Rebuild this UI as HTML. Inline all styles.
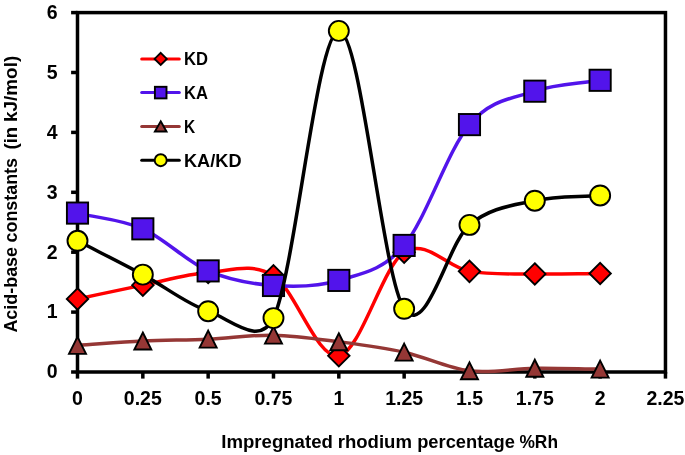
<!DOCTYPE html>
<html><head><meta charset="utf-8"><style>
html,body{margin:0;padding:0;background:#fff;}
body{width:685px;height:455px;overflow:hidden;}
svg{display:block;will-change:transform;}
text{font-family:"Liberation Sans",sans-serif;font-weight:bold;fill:#000;}
.tk{font-size:19.5px;}
.lg{font-size:18.5px;}
.tt{font-size:18px;}
</style></head><body>
<svg width="685" height="455" viewBox="0 0 685 455">
<g stroke="#000" stroke-width="3.5" fill="none" stroke-linecap="butt">
<rect x="77.50" y="12.60" width="587.97" height="359.40"/>
<line x1="71.10" y1="372.00" x2="77.50" y2="372.00"/>
<line x1="71.10" y1="312.10" x2="77.50" y2="312.10"/>
<line x1="71.10" y1="252.20" x2="77.50" y2="252.20"/>
<line x1="71.10" y1="192.30" x2="77.50" y2="192.30"/>
<line x1="71.10" y1="132.40" x2="77.50" y2="132.40"/>
<line x1="71.10" y1="72.50" x2="77.50" y2="72.50"/>
<line x1="71.10" y1="12.60" x2="77.50" y2="12.60"/>
<line x1="77.50" y1="372.00" x2="77.50" y2="378.60"/>
<line x1="142.83" y1="372.00" x2="142.83" y2="378.60"/>
<line x1="208.16" y1="372.00" x2="208.16" y2="378.60"/>
<line x1="273.49" y1="372.00" x2="273.49" y2="378.60"/>
<line x1="338.82" y1="372.00" x2="338.82" y2="378.60"/>
<line x1="404.15" y1="372.00" x2="404.15" y2="378.60"/>
<line x1="469.48" y1="372.00" x2="469.48" y2="378.60"/>
<line x1="534.81" y1="372.00" x2="534.81" y2="378.60"/>
<line x1="600.14" y1="372.00" x2="600.14" y2="378.60"/>
<line x1="665.47" y1="372.00" x2="665.47" y2="378.60"/>
</g>
<path d="M77.50,298.92 C99.28,294.33 121.05,289.54 142.83,285.14 C164.61,280.75 186.38,274.12 208.16,272.57 C229.94,271.01 251.71,261.92 273.49,275.80 C295.27,289.68 317.04,359.76 338.82,355.83 C360.60,351.89 382.37,266.28 404.15,252.20 C425.93,238.12 447.70,267.74 469.48,271.37 C491.26,274.99 513.03,273.58 534.81,273.94 C556.59,274.30 578.36,273.66 600.14,273.52" fill="none" stroke="#ff0000" stroke-width="3.5" stroke-linejoin="round" stroke-linecap="round"/>
<path d="M77.50,288.22 L88.20,298.92 L77.50,309.62 L66.80,298.92 Z" fill="#ff0000" stroke="#000" stroke-width="1.90"/>
<path d="M142.83,274.44 L153.53,285.14 L142.83,295.84 L132.13,285.14 Z" fill="#ff0000" stroke="#000" stroke-width="1.90"/>
<path d="M208.16,261.87 L218.86,272.57 L208.16,283.27 L197.46,272.57 Z" fill="#ff0000" stroke="#000" stroke-width="1.90"/>
<path d="M273.49,265.10 L284.19,275.80 L273.49,286.50 L262.79,275.80 Z" fill="#ff0000" stroke="#000" stroke-width="1.90"/>
<path d="M338.82,345.13 L349.52,355.83 L338.82,366.53 L328.12,355.83 Z" fill="#ff0000" stroke="#000" stroke-width="1.90"/>
<path d="M404.15,241.50 L414.85,252.20 L404.15,262.90 L393.45,252.20 Z" fill="#ff0000" stroke="#000" stroke-width="1.90"/>
<path d="M469.48,260.67 L480.18,271.37 L469.48,282.07 L458.78,271.37 Z" fill="#ff0000" stroke="#000" stroke-width="1.90"/>
<path d="M534.81,263.24 L545.51,273.94 L534.81,284.64 L524.11,273.94 Z" fill="#ff0000" stroke="#000" stroke-width="1.90"/>
<path d="M600.14,262.82 L610.84,273.52 L600.14,284.22 L589.44,273.52 Z" fill="#ff0000" stroke="#000" stroke-width="1.90"/>
<path d="M77.50,213.09 C99.28,218.34 121.05,219.21 142.83,228.84 C164.61,238.47 186.38,261.44 208.16,270.89 C229.94,280.33 251.71,283.92 273.49,285.50 C295.27,287.09 317.04,287.09 338.82,280.41 C360.60,273.73 382.37,271.40 404.15,245.43 C425.93,219.46 447.70,150.32 469.48,124.61 C491.26,98.91 513.03,98.58 534.81,91.19 C556.59,83.80 578.36,83.92 600.14,80.29" fill="none" stroke="#5214eb" stroke-width="3.5" stroke-linejoin="round" stroke-linecap="round"/>
<rect x="66.90" y="202.49" width="21.20" height="21.20" fill="#5214eb" stroke="#000" stroke-width="1.90"/>
<rect x="132.23" y="218.24" width="21.20" height="21.20" fill="#5214eb" stroke="#000" stroke-width="1.90"/>
<rect x="197.56" y="260.29" width="21.20" height="21.20" fill="#5214eb" stroke="#000" stroke-width="1.90"/>
<rect x="262.89" y="274.90" width="21.20" height="21.20" fill="#5214eb" stroke="#000" stroke-width="1.90"/>
<rect x="328.22" y="269.81" width="21.20" height="21.20" fill="#5214eb" stroke="#000" stroke-width="1.90"/>
<rect x="393.55" y="234.83" width="21.20" height="21.20" fill="#5214eb" stroke="#000" stroke-width="1.90"/>
<rect x="458.88" y="114.01" width="21.20" height="21.20" fill="#5214eb" stroke="#000" stroke-width="1.90"/>
<rect x="524.21" y="80.59" width="21.20" height="21.20" fill="#5214eb" stroke="#000" stroke-width="1.90"/>
<rect x="589.54" y="69.69" width="21.20" height="21.20" fill="#5214eb" stroke="#000" stroke-width="1.90"/>
<path d="M77.50,345.34 C99.28,343.91 121.05,342.06 142.83,341.03 C164.61,340.00 186.38,340.15 208.16,339.17 C229.94,338.20 251.71,334.73 273.49,335.16 C295.27,335.59 317.04,338.92 338.82,341.75 C360.60,344.59 382.37,347.33 404.15,352.17 C425.93,357.02 447.70,368.13 469.48,370.80 C491.26,373.48 513.03,368.51 534.81,368.23 C556.59,367.95 578.36,368.83 600.14,369.12" fill="none" stroke="#953735" stroke-width="3.5" stroke-linejoin="round" stroke-linecap="round"/>
<path d="M77.50,336.84 L86.00,353.84 L69.00,353.84 Z" fill="#953735" stroke="#000" stroke-width="1.90" stroke-linejoin="miter"/>
<path d="M142.83,332.53 L151.33,349.53 L134.33,349.53 Z" fill="#953735" stroke="#000" stroke-width="1.90" stroke-linejoin="miter"/>
<path d="M208.16,330.67 L216.66,347.67 L199.66,347.67 Z" fill="#953735" stroke="#000" stroke-width="1.90" stroke-linejoin="miter"/>
<path d="M273.49,326.66 L281.99,343.66 L264.99,343.66 Z" fill="#953735" stroke="#000" stroke-width="1.90" stroke-linejoin="miter"/>
<path d="M338.82,333.25 L347.32,350.25 L330.32,350.25 Z" fill="#953735" stroke="#000" stroke-width="1.90" stroke-linejoin="miter"/>
<path d="M404.15,343.67 L412.65,360.67 L395.65,360.67 Z" fill="#953735" stroke="#000" stroke-width="1.90" stroke-linejoin="miter"/>
<path d="M469.48,362.30 L477.98,379.30 L460.98,379.30 Z" fill="#953735" stroke="#000" stroke-width="1.90" stroke-linejoin="miter"/>
<path d="M534.81,359.73 L543.31,376.73 L526.31,376.73 Z" fill="#953735" stroke="#000" stroke-width="1.90" stroke-linejoin="miter"/>
<path d="M600.14,360.62 L608.64,377.62 L591.64,377.62 Z" fill="#953735" stroke="#000" stroke-width="1.90" stroke-linejoin="miter"/>
<path d="M77.50,240.82 C99.28,252.08 121.05,262.87 142.83,274.60 C164.61,286.33 186.38,303.95 208.16,311.20 C229.94,318.45 259.61,347.86 273.49,318.09 C295.27,271.37 317.04,32.42 338.82,30.87 C360.60,29.32 382.37,276.47 404.15,308.81 C425.93,341.14 447.70,242.91 469.48,224.89 C491.26,206.87 513.03,205.59 534.81,200.69 C556.59,195.78 578.36,197.21 600.14,195.47" fill="none" stroke="#000" stroke-width="3.5" stroke-linejoin="round" stroke-linecap="round"/>
<circle cx="77.50" cy="240.82" r="10.00" fill="#ffff00" stroke="#000" stroke-width="1.90"/>
<circle cx="142.83" cy="274.60" r="10.00" fill="#ffff00" stroke="#000" stroke-width="1.90"/>
<circle cx="208.16" cy="311.20" r="10.00" fill="#ffff00" stroke="#000" stroke-width="1.90"/>
<circle cx="273.49" cy="318.09" r="10.00" fill="#ffff00" stroke="#000" stroke-width="1.90"/>
<circle cx="338.82" cy="30.87" r="10.00" fill="#ffff00" stroke="#000" stroke-width="1.90"/>
<circle cx="404.15" cy="308.81" r="10.00" fill="#ffff00" stroke="#000" stroke-width="1.90"/>
<circle cx="469.48" cy="224.89" r="10.00" fill="#ffff00" stroke="#000" stroke-width="1.90"/>
<circle cx="534.81" cy="200.69" r="10.00" fill="#ffff00" stroke="#000" stroke-width="1.90"/>
<circle cx="600.14" cy="195.47" r="10.00" fill="#ffff00" stroke="#000" stroke-width="1.90"/>
<line x1="141.7" y1="58.9" x2="179.3" y2="58.9" stroke="#ff0000" stroke-width="3.0" stroke-linecap="round"/>
<path d="M160.70,52.80 L166.80,58.90 L160.70,65.00 L154.60,58.90 Z" fill="#ff0000" stroke="#000" stroke-width="1.90"/>
<text x="184.0" y="65.2" class="lg" textLength="24.0" lengthAdjust="spacingAndGlyphs">KD</text>
<line x1="141.7" y1="92.6" x2="179.3" y2="92.6" stroke="#5214eb" stroke-width="3.0" stroke-linecap="round"/>
<rect x="154.90" y="86.80" width="11.60" height="11.60" fill="#5214eb" stroke="#000" stroke-width="1.90"/>
<text x="184.0" y="98.9" class="lg" textLength="24.0" lengthAdjust="spacingAndGlyphs">KA</text>
<line x1="141.7" y1="126.4" x2="179.3" y2="126.4" stroke="#953735" stroke-width="3.0" stroke-linecap="round"/>
<path d="M160.70,121.30 L166.50,131.50 L154.90,131.50 Z" fill="#953735" stroke="#000" stroke-width="1.90" stroke-linejoin="miter"/>
<text x="184.0" y="132.7" class="lg" textLength="11.2" lengthAdjust="spacingAndGlyphs">K</text>
<line x1="141.7" y1="160.2" x2="179.3" y2="160.2" stroke="#000" stroke-width="3.0" stroke-linecap="round"/>
<circle cx="160.70" cy="160.20" r="6.00" fill="#ffff00" stroke="#000" stroke-width="1.90"/>
<text x="184.0" y="166.5" class="lg" textLength="57.5" lengthAdjust="spacingAndGlyphs">KA/KD</text>
<text x="57.5" y="378.3" class="tk" text-anchor="end">0</text>
<text x="57.5" y="318.4" class="tk" text-anchor="end">1</text>
<text x="57.5" y="258.5" class="tk" text-anchor="end">2</text>
<text x="57.5" y="198.6" class="tk" text-anchor="end">3</text>
<text x="57.5" y="138.7" class="tk" text-anchor="end">4</text>
<text x="57.5" y="78.8" class="tk" text-anchor="end">5</text>
<text x="57.5" y="18.9" class="tk" text-anchor="end">6</text>
<text x="77.50" y="404.5" class="tk" text-anchor="middle">0</text>
<text x="142.83" y="404.5" class="tk" text-anchor="middle">0.25</text>
<text x="208.16" y="404.5" class="tk" text-anchor="middle">0.5</text>
<text x="273.49" y="404.5" class="tk" text-anchor="middle">0.75</text>
<text x="338.82" y="404.5" class="tk" text-anchor="middle">1</text>
<text x="404.15" y="404.5" class="tk" text-anchor="middle">1.25</text>
<text x="469.48" y="404.5" class="tk" text-anchor="middle">1.5</text>
<text x="534.81" y="404.5" class="tk" text-anchor="middle">1.75</text>
<text x="600.14" y="404.5" class="tk" text-anchor="middle">2</text>
<text x="665.47" y="404.5" class="tk" text-anchor="middle">2.25</text>
<text x="221.27" y="448.3" class="tt" textLength="111.60" lengthAdjust="spacingAndGlyphs">Impregnated</text>
<text x="337.67" y="448.3" class="tt" textLength="74.26" lengthAdjust="spacingAndGlyphs">rhodium</text>
<text x="417.18" y="448.3" class="tt" textLength="97.68" lengthAdjust="spacingAndGlyphs">percentage</text>
<text x="519.44" y="448.3" class="tt" textLength="38.53" lengthAdjust="spacingAndGlyphs">%Rh</text>
<text transform="rotate(-90)" x="-332.60" y="17.2" class="tt" textLength="85.62" lengthAdjust="spacingAndGlyphs">Acid-base</text>
<text transform="rotate(-90)" x="-242.49" y="17.2" class="tt" textLength="84.52" lengthAdjust="spacingAndGlyphs">constants</text>
<text transform="rotate(-90)" x="-149.53" y="17.2" class="tt" textLength="22.55" lengthAdjust="spacingAndGlyphs">(in</text>
<text transform="rotate(-90)" x="-121.95" y="17.2" class="tt" textLength="66.13" lengthAdjust="spacingAndGlyphs">kJ/mol)</text>
</svg>
</body></html>
